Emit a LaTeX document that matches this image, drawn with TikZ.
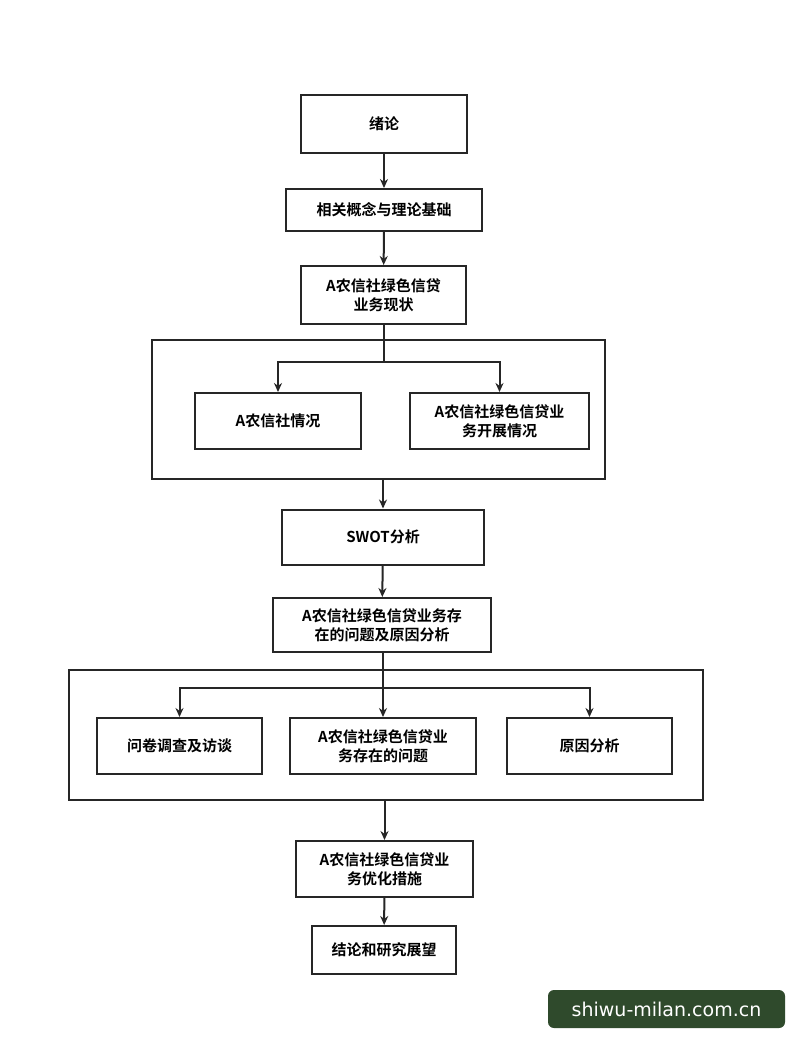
\documentclass[tikz,border=0pt]{standalone}
\usepackage{fontspec}
\newfontfamily\cjk{Noto Sans CJK SC}[BoldFont={Noto Sans CJK SC Bold}]
\usetikzlibrary{arrows.meta}
\definecolor{wmgreen}{HTML}{2F4A2C}
\begin{document}
\begin{tikzpicture}[x=1pt,y=-1pt,
  box/.style={draw=black!85,line width=2pt,fill=white,align=center,font=\cjk\bfseries\fontsize{15}{19}\selectfont,inner sep=0pt},
  frame/.style={draw=black!85,line width=2pt},
  arr/.style={draw=black!85,line width=2pt,-{Stealth[length=9pt,width=8pt]}},
  ln/.style={draw=black!85,line width=2pt}]
\useasboundingbox[fill=white] (0,0) rectangle (800,1044);
\node[box,minimum width=166pt,minimum height=58pt] (n1) at (384,124) {绪论};
\node[box,minimum width=196pt,minimum height=42pt] (n2) at (384,210) {相关概念与理论基础};
\node[box,minimum width=165pt,minimum height=58pt] (n3) at (383.5,295) {A农信社绿色信贷\\业务现状};
\node[frame,minimum width=453pt,minimum height=139pt,inner sep=0pt] (f1) at (378.5,409.5) {};
\node[box,minimum width=166pt,minimum height=56pt] (n4) at (278,421) {A农信社情况};
\node[box,minimum width=179pt,minimum height=56pt] (n5) at (499.5,421) {A农信社绿色信贷业\\务开展情况};
\node[box,minimum width=202pt,minimum height=55pt] (n6) at (383,537) {SWOT分析};
\node[box,minimum width=218pt,minimum height=54pt] (n7) at (382,625) {A农信社绿色信贷业务存\\在的问题及原因分析};
\node[frame,minimum width=634pt,minimum height=130pt,inner sep=0pt] (f2) at (386,735) {};
\node[box,minimum width=165pt,minimum height=56pt] (n8) at (179.5,746) {问卷调查及访谈};
\node[box,minimum width=186pt,minimum height=56pt] (n9) at (383,746) {A农信社绿色信贷业\\务存在的问题};
\node[box,minimum width=165pt,minimum height=56pt] (n10) at (589.5,746) {原因分析};
\node[box,minimum width=177pt,minimum height=56pt] (n11) at (384.5,869) {A农信社绿色信贷业\\务优化措施};
\node[box,minimum width=144pt,minimum height=48pt] (n12) at (384,950) {结论和研究展望};
\coordinate (j1) at (383.5,362);
\coordinate (j2) at (383,688);
\draw[arr] (n1) -- (n2);
\draw[arr] (n2) -- (n3);
\draw[ln] (n3.south) -- (j1);
\draw[arr] (j1) -| (n4.north);
\draw[arr] (j1) -| (n5.north);
\draw[arr] (f1.south -| n6) -- (n6);
\draw[arr] (n6) -- (n7);
\draw[arr] (n7.south -| n9) -- (n9);
\draw[arr] (j2) -| (n8.north);
\draw[arr] (j2) -| (n10.north);
\draw[arr] (f2.south -| n11) -- (n11);
\draw[arr] (n11) -- (n12);
\node[fill=wmgreen,rounded corners=6pt,minimum width=237pt,minimum height=38pt,text=white,font=\fontspec{DejaVu Sans}\fontsize{19}{22}\selectfont] (wm) at (666.5,1009) {shiwu-milan.com.cn};
\end{tikzpicture}
\end{document}
